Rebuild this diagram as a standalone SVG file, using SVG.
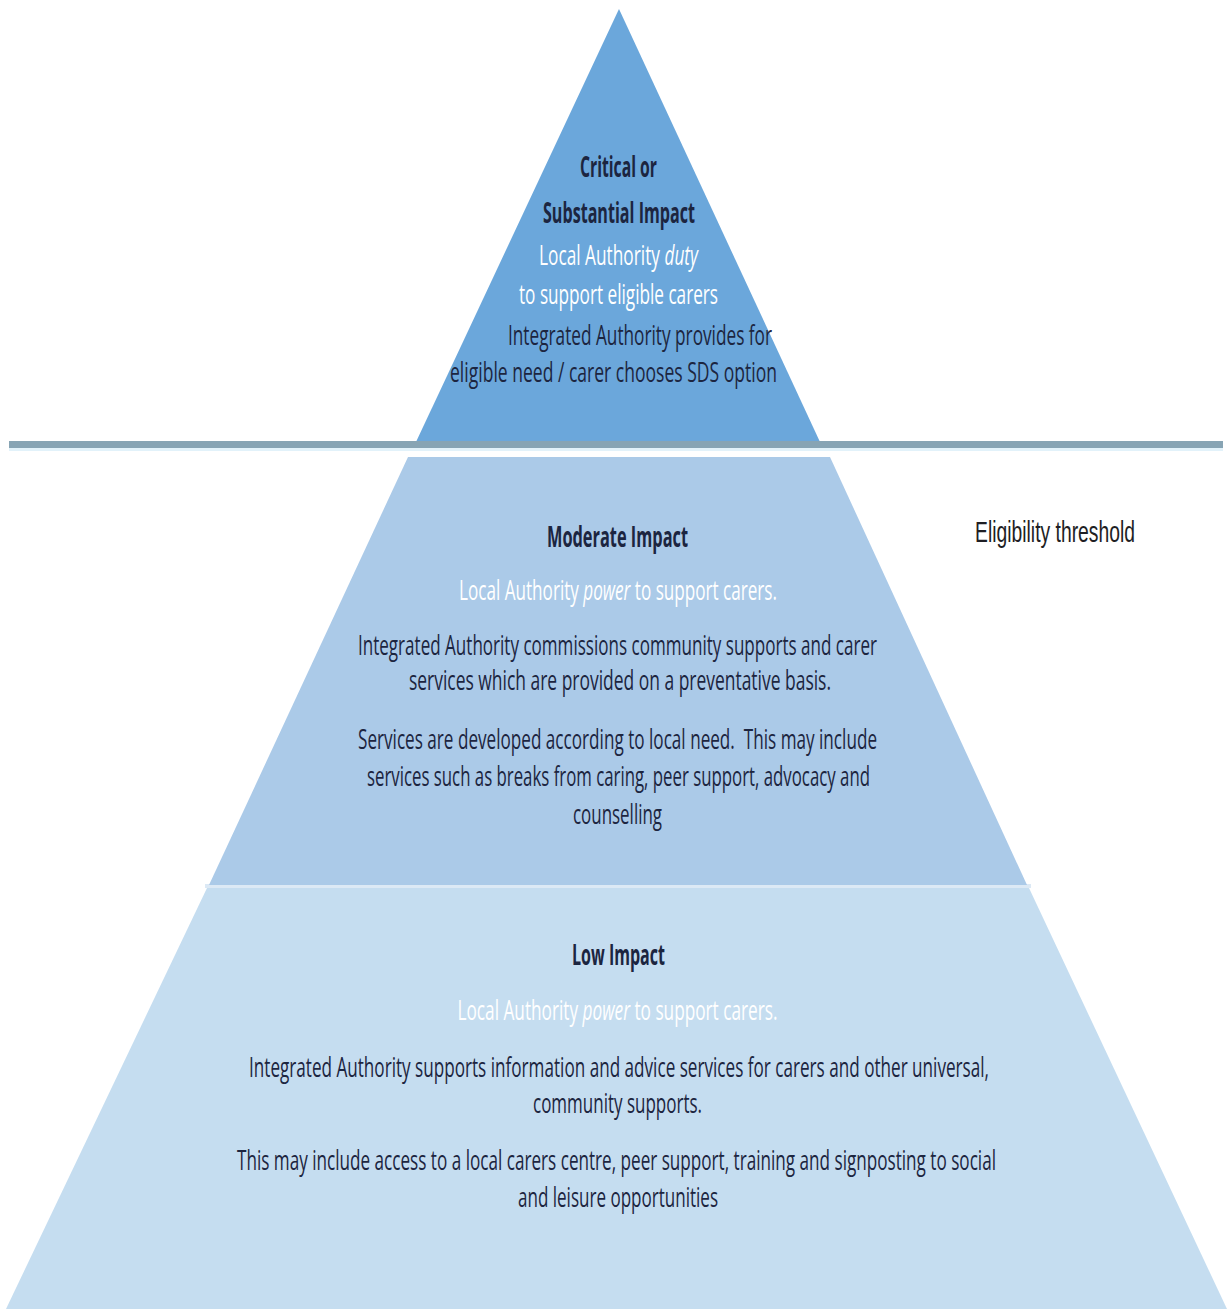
<svg xmlns="http://www.w3.org/2000/svg" width="1231" height="1309" viewBox="0 0 1231 1309">
  <style>
    .t { font-family: "Open Sans", "Noto Sans", "Liberation Sans", sans-serif; font-size: 28px; text-anchor: middle; }
    .dark { fill: #1c2540; }
    .light { fill: #ffffff; }
    .b { font-weight: 700; font-size: 28px; }
    .i { font-style: italic; }
    .label { font-family: "Liberation Sans", Arial, sans-serif; font-size: 30px; fill: #1e1e24; }
  </style>
  <rect x="0" y="0" width="1231" height="1309" fill="#ffffff"/>

  <g id="tier-low">
    <polygon points="207,888 1029,888 1227,1309 6,1309" fill="#c5ddf0"/>
    <text class="t b dark" x="618.5" y="965" textLength="93" lengthAdjust="spacingAndGlyphs">Low Impact</text>
    <text class="t light" x="617.5" y="1020" textLength="320" lengthAdjust="spacingAndGlyphs">Local Authority <tspan class="i">power</tspan> to support carers.</text>
    <text class="t dark" x="619" y="1077" textLength="740" lengthAdjust="spacingAndGlyphs">Integrated Authority supports information and advice services for carers and other universal,</text>
    <text class="t dark" x="617.5" y="1113" textLength="169" lengthAdjust="spacingAndGlyphs">community supports.</text>
    <text class="t dark" x="616.5" y="1170" textLength="759" lengthAdjust="spacingAndGlyphs">This may include access to a local carers centre, peer support, training and signposting to social</text>
    <text class="t dark" x="618" y="1207" textLength="200" lengthAdjust="spacingAndGlyphs">and leisure opportunities</text>
  </g>

  <g id="separator">
    <rect x="205" y="884" width="826" height="4" fill="#dce9f5"/>
  </g>

  <g id="tier-moderate">
    <polygon points="408,457 830,457 1027,885 209,885" fill="#abcae8"/>
    <text class="t b dark" x="617.5" y="547" textLength="141" lengthAdjust="spacingAndGlyphs">Moderate Impact</text>
    <text class="t light" x="618" y="600" textLength="318" lengthAdjust="spacingAndGlyphs">Local Authority <tspan class="i">power</tspan> to support carers.</text>
    <text class="t dark" x="617.5" y="655" textLength="519" lengthAdjust="spacingAndGlyphs">Integrated Authority commissions community supports and carer</text>
    <text class="t dark" x="620" y="690" textLength="422" lengthAdjust="spacingAndGlyphs">services which are provided on a preventative basis.</text>
    <text class="t dark" x="617.5" y="749" textLength="519" lengthAdjust="spacingAndGlyphs" xml:space="preserve">Services are developed according to local need.  This may include</text>
    <text class="t dark" x="618.5" y="786" textLength="503" lengthAdjust="spacingAndGlyphs">services such as breaks from caring, peer support, advocacy and</text>
    <text class="t dark" x="617.5" y="824" textLength="89" lengthAdjust="spacingAndGlyphs">counselling</text>
  </g>

  <g id="tier-critical">
    <polygon points="619,9 416,442 820,442" fill="#6ba7db"/>
    <text class="t b dark" x="618.5" y="177" textLength="77" lengthAdjust="spacingAndGlyphs">Critical or</text>
    <text class="t b dark" x="619" y="223" textLength="152" lengthAdjust="spacingAndGlyphs">Substantial Impact</text>
    <text class="t light" x="618.5" y="265" textLength="159" lengthAdjust="spacingAndGlyphs">Local Authority <tspan class="i">duty</tspan></text>
    <text class="t light" x="618.5" y="304" textLength="199" lengthAdjust="spacingAndGlyphs">to support eligible carers</text>
    <text class="t dark" x="640" y="345" textLength="264" lengthAdjust="spacingAndGlyphs">Integrated Authority provides for</text>
    <text class="t dark" x="613.5" y="382" textLength="327" lengthAdjust="spacingAndGlyphs">eligible need / carer chooses SDS option</text>
  </g>

  <g id="eligibility-line">
    <rect x="9" y="441" width="1214" height="7" fill="#87a4b4"/>
    <rect x="9" y="448" width="1214" height="3" fill="#e2f2fa"/>
  </g>

  <g id="eligibility-label">
    <text class="label" x="975" y="542" textLength="160" lengthAdjust="spacingAndGlyphs">Eligibility threshold</text>
  </g>
</svg>
